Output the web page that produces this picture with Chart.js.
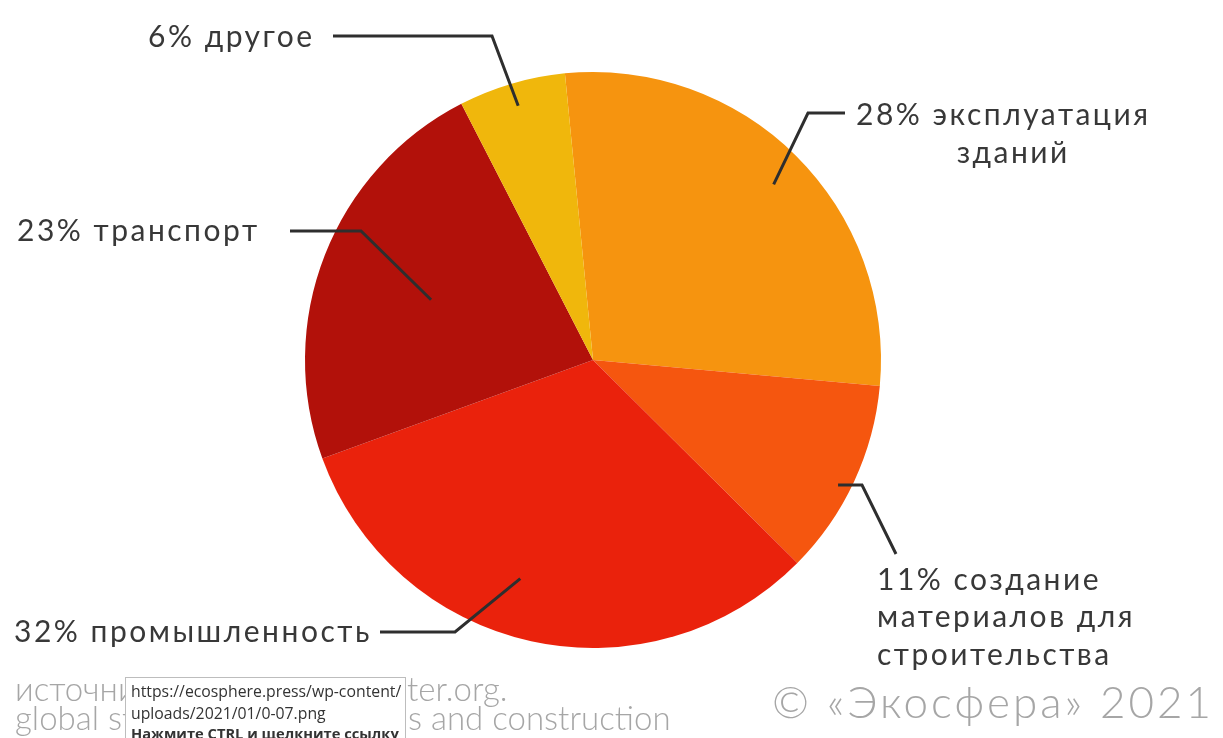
<!DOCTYPE html>
<html><head><meta charset="utf-8">
<script src="https://cdn.jsdelivr.net/npm/chart.js@4.4.0/dist/chart.umd.min.js"></script>
<style>html,body{margin:0;padding:0;background:#fff;overflow:hidden}#wrap{position:relative;width:1223px;height:738px}</style>
</head><body><div id="wrap"><canvas id="c" width="1223" height="738"></canvas></div>
<script>
const categories = ['эксплуатация зданий', 'создание материалов для строительства', 'промышленность', 'транспорт', 'другое'];
const values = [28, 11, 32, 23, 6];
const colors = ['#F6940F', '#F5560F', '#EA220C', '#B2110A', '#F0B70C'];
const labelLines = [
  ['28% эксплуатация', 'зданий'],
  ['11% создание', 'материалов для', 'строительства'],
  ['32% промышленность'],
  ['23% транспорт'],
  ['6% другое']
];
const footerLeft = ['источник: globalabc.org, worldgbc.org, architec', 'global status report for building'];
const footerRight = ['ter.org.', 's and construction'];
const copyright = '© «Экосфера» 2021';
const hintLines = ['https://ecosphere.press/wp-content/', 'uploads/2021/01/0-07.png', 'Нажмите CTRL и щелкните ссылку'];

// label layout: anchor radius fraction / angle shift, elbow, line end, text pos
const layout = [
  {rf:0.875, da:1,  elbow:[808,113], end:[845,113], text:[856,115], lineH:38, center2:true},
  {rf:0.955, da:2,  elbow:[862,485], end:[896,554], text:[877,580], lineH:37.5},
  {rf:0.80,  da:6,  elbow:[455,632], end:[380,632], text:[14,632],  lineH:38},
  {rf:0.60,  da:-1, elbow:[361,231], end:[290,231], text:[17,231],  lineH:38},
  {rf:0.92,  da:0,  elbow:[492,36],  end:[333,36],  text:[148,37],  lineH:38}
];
const FONT = '"Lato", "DejaVu Sans", sans-serif';

const labelPlugin = {
  id: 'labels',
  afterDraw(chart) {
    const ctx = chart.ctx;
    const meta = chart.getDatasetMeta(0);
    meta.data.forEach((arc, i) => {
      const p = arc.getProps(['x','y','startAngle','endAngle','outerRadius'], true);
      const L = layout[i];
      const mid = (p.startAngle + p.endAngle) / 2 + L.da * Math.PI / 180;
      const ax = p.x + Math.cos(mid) * p.outerRadius * L.rf;
      const ay = p.y + Math.sin(mid) * p.outerRadius * L.rf;
      ctx.save();
      ctx.strokeStyle = '#2e2e2e';
      ctx.lineWidth = 3;
      ctx.lineJoin = 'miter';
      ctx.beginPath();
      if (i === 1) {
        ctx.moveTo(ax, L.elbow[1]);
      } else {
        ctx.moveTo(ax, ay);
      }
      ctx.lineTo(L.elbow[0], L.elbow[1]);
      ctx.lineTo(L.end[0], L.end[1]);
      ctx.stroke();
      ctx.fillStyle = '#383838';
      ctx.font = '30px ' + FONT;
      ctx.letterSpacing = '2.5px';
      ctx.textBaseline = 'middle';
      const lines = labelLines[i];
      const w0 = ctx.measureText(lines[0]).width;
      lines.forEach((t, k) => {
        let x = L.text[0];
        ctx.textAlign = 'left';
        if (L.center2 && k > 0) {
          const wk = ctx.measureText(t).width;
          x = L.text[0] + (w0 - wk) / 2 + 10;
        }
        ctx.fillText(t, x, L.text[1] + k * L.lineH);
      });
      ctx.restore();
    });
    // footer
    ctx.save();
    ctx.fillStyle = '#a6a6a6';
    ctx.textBaseline = 'middle';
    ctx.textAlign = 'left';
    ctx.font = '300 33px ' + FONT;
    ctx.save();
    ctx.beginPath(); ctx.rect(0, 660, 405, 80); ctx.clip();
    ctx.fillText(footerLeft[0], 15, 690);
    ctx.fillText(footerLeft[1], 15, 719);
    ctx.restore();
    ctx.fillText(footerRight[0], 407, 690);
    ctx.fillText(footerRight[1], 408, 719);
    ctx.font = '300 44px ' + FONT;
    ctx.letterSpacing = '3px';
    ctx.textAlign = 'left';
    const cw = ctx.measureText(copyright).width;
    ctx.fillText(copyright, 1214 - cw, 704);
    ctx.letterSpacing = '0px';
    // hover hint box
    ctx.fillStyle = '#ffffff';
    ctx.fillRect(125, 677, 280, 70);
    ctx.strokeStyle = '#bdbdbd';
    ctx.lineWidth = 1;
    ctx.strokeRect(125.5, 677.5, 280, 70);
    ctx.fillStyle = '#333';
    ctx.textAlign = 'left';
    ctx.font = '15.8px "Open Sans", sans-serif';
    ctx.fillText(hintLines[0], 131, 692);
    ctx.fillText(hintLines[1], 131, 714);
    ctx.font = 'bold 14.7px "Open Sans", sans-serif';
    ctx.fillText(hintLines[2], 131, 735);
    ctx.restore();
  }
};

new Chart(document.getElementById('c'), {
  type: 'pie',
  data: { labels: categories, datasets: [{ data: values, backgroundColor: colors, borderWidth: 0 }] },
  options: {
    responsive: false,
    animation: false,
    rotation: -5.6,
    layout: { padding: { left: 305, right: 342, top: 72, bottom: 90 } },
    plugins: { legend: { display: false }, tooltip: { enabled: false } }
  },
  plugins: [labelPlugin]
});
</script></body></html>
